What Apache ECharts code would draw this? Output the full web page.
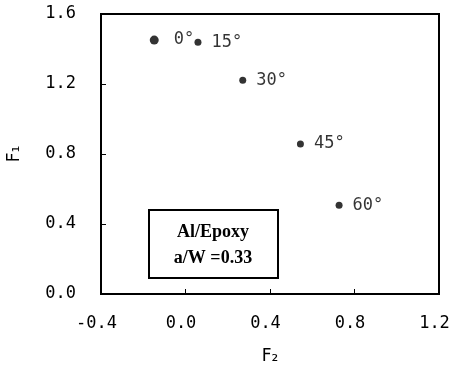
<!DOCTYPE html>
<html>
<head>
<meta charset="utf-8">
<script src="https://cdn.jsdelivr.net/npm/echarts@6/dist/echarts.min.js"></script>
<style>html,body{margin:0;padding:0;background:#fff}#c{width:451px;height:367px}</style>
</head>
<body>
<div id="c"></div>
<script>
const f2Values = [-0.148, 0.059, 0.271, 0.544, 0.727];
const f1Values = [1.451, 1.438, 1.221, 0.857, 0.507];
const angleLabels = ['0°', '15°', '30°', '45°', '60°'];
const xTicks = [-0.4, 0.0, 0.4, 0.8, 1.2];
const yTicks = [0.0, 0.4, 0.8, 1.2, 1.6];

const chart = echarts.init(document.getElementById('c'), null, {renderer: 'canvas'});
const font = 'DejaVu Sans Mono';
const axisCommon = {
  axisLine: {show: true, onZero: false, lineStyle: {color: '#000', width: 2}},
  axisTick: {show: true, inside: true, length: 5, lineStyle: {color: '#000', width: 1}},
  splitLine: {show: false},
  axisLabel: {color: '#000', fontSize: 17, fontFamily: font, formatter: v => v.toFixed(1)}
};
chart.setOption({
  animation: false,
  grid: {left: 101, right: 12, top: 14, bottom: 73, containLabel: false, outerBoundsMode: 'none',
         show: true, borderColor: '#000', borderWidth: 2},
  xAxis: Object.assign({}, axisCommon, {
    type: 'value', min: xTicks[0], max: xTicks[xTicks.length - 1], interval: 0.4,
    name: 'F₂', nameLocation: 'middle', nameGap: 54,
    nameTextStyle: {color: '#000', fontSize: 17, fontFamily: 'DejaVu Sans'},
    axisLabel: Object.assign({}, axisCommon.axisLabel, {margin: 21, padding: [0, 9, 0, 0]})
  }),
  yAxis: Object.assign({}, axisCommon, {
    type: 'value', min: yTicks[0], max: yTicks[yTicks.length - 1], interval: 0.4,
    name: 'F₁', nameLocation: 'middle', nameGap: 78,
    nameTextStyle: {color: '#000', fontSize: 17, fontFamily: 'DejaVu Sans'},
    axisLabel: Object.assign({}, axisCommon.axisLabel, {margin: 25})
  }),
  series: [{
    type: 'scatter',
    data: f2Values.map((x, i) => ({
      value: [x, f1Values[i], angleLabels[i]],
      label: i === 0 ? {distance: 15} : undefined
    })),
    symbolSize: (v, p) => p.dataIndex === 0 ? 9 : 7,
    itemStyle: {color: '#000'},
    label: {
      show: true, position: 'right', distance: 10,
      formatter: p => p.value[2],
      color: '#000', fontSize: 17, fontFamily: font
    }
  }],
  graphic: [
    {type: 'rect', shape: {x: 149, y: 210, width: 129, height: 68},
     style: {fill: '#fff', stroke: '#000', lineWidth: 2}},
    {type: 'text', x: 213, y: 232,
     style: {text: 'Al/Epoxy', fill: '#000', fontSize: 18, fontWeight: 'bold', fontFamily: 'Liberation Serif', align: 'center', verticalAlign: 'middle'}},
    {type: 'text', x: 213, y: 258,
     style: {text: 'a/W =0.33', fill: '#000', fontSize: 18, fontWeight: 'bold', fontFamily: 'Liberation Serif', align: 'center', verticalAlign: 'middle'}}
  ]
});
</script>
</body>
</html>
